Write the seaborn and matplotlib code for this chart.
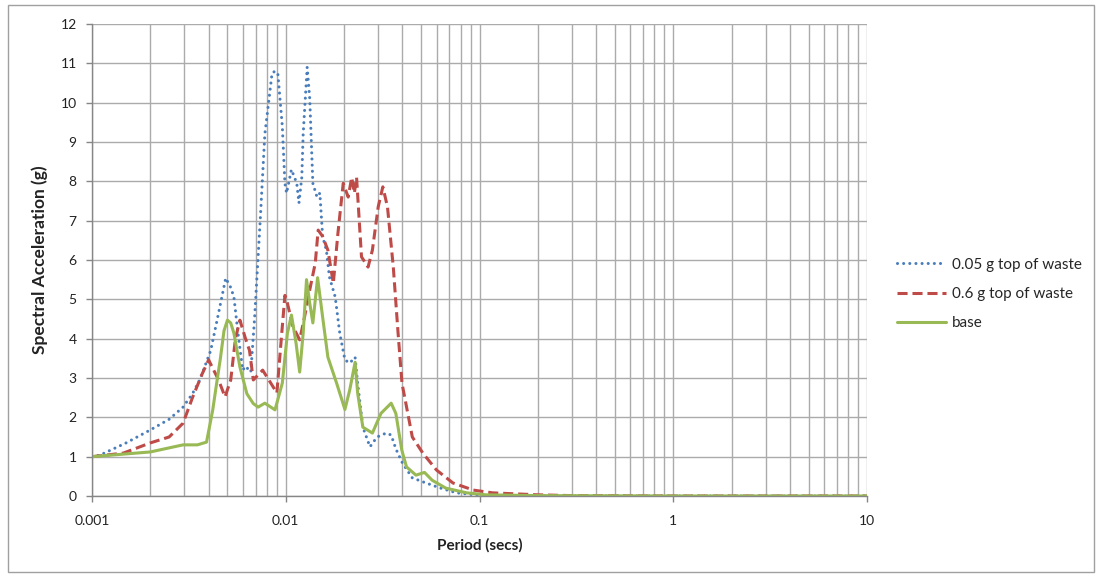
import numpy as np
import pandas as pd
import matplotlib
matplotlib.use("Agg")
import matplotlib.pyplot as plt
from matplotlib.patches import Rectangle
from matplotlib.ticker import LogLocator, FixedLocator, NullFormatter
import seaborn as sns

# ---------------- data ----------------
blue_period = [0.001, 0.0011, 0.0015, 0.002, 0.0025, 0.00295, 0.0033, 0.0036, 0.0041, 0.0045,
               0.0049, 0.0052, 0.0054, 0.0057, 0.006, 0.0062, 0.0066, 0.0069, 0.0074, 0.0078,
               0.0085, 0.0088, 0.0091, 0.0096, 0.0099, 0.0101, 0.0107, 0.0114, 0.0117, 0.0121,
               0.0123, 0.0129, 0.0133, 0.0138, 0.0145, 0.015, 0.0155, 0.0162, 0.0168, 0.018,
               0.019, 0.0202, 0.0214, 0.0228, 0.0235, 0.025, 0.0272, 0.0296, 0.033, 0.035,
               0.037, 0.040, 0.045, 0.053, 0.063, 0.076, 0.1, 0.2, 1.0, 10.0]
blue_sa = [1.0, 1.04, 1.35, 1.68, 1.95, 2.26, 2.6, 2.95, 3.7, 4.65,
           5.54, 5.3, 5.06, 4.04, 3.2, 3.3, 3.15, 4.5, 7.1, 9.2,
           10.75, 10.8, 10.75, 9.4, 7.95, 7.7, 8.3, 7.95, 7.45, 8.1,
           9.2, 10.9, 10.1, 7.95, 7.6, 7.7, 6.6, 6.25, 5.57, 5.06,
           4.14, 3.46, 3.38, 3.53, 2.87, 1.75, 1.25, 1.5, 1.6, 1.55,
           1.2, 0.84, 0.46, 0.33, 0.2, 0.08, 0.02, 0.005, 0.0, 0.0]

red_period = [0.001, 0.00145, 0.002, 0.0025, 0.00295, 0.0033, 0.0037, 0.004, 0.0045, 0.00486,
              0.0052, 0.0055, 0.0058, 0.0062, 0.0065, 0.0068, 0.0076, 0.0083, 0.009, 0.0095,
              0.0099, 0.0102, 0.0109, 0.0118, 0.0125, 0.0133, 0.0142, 0.0147, 0.0155, 0.0165,
              0.0176, 0.0186, 0.0198, 0.021, 0.0219, 0.0226, 0.0232, 0.0246, 0.0266, 0.028,
              0.030, 0.0317, 0.0335, 0.0359, 0.038, 0.0398, 0.0423, 0.045, 0.051, 0.060,
              0.073, 0.093, 0.117, 0.2, 0.3, 1.0, 10.0]
red_sa = [1.0, 1.09, 1.35, 1.5, 1.85, 2.5, 3.1, 3.46, 2.95, 2.52,
          2.95, 4.0, 4.47, 4.0, 3.7, 2.95, 3.2, 2.9, 2.62, 4.04,
          5.1, 4.9, 4.3, 3.97, 4.55, 5.24, 5.92, 6.76, 6.6, 6.25,
          5.41, 6.69, 7.95, 7.6, 8.1, 7.7, 8.1, 6.08, 5.82, 6.25,
          7.35, 7.86, 7.35, 5.82, 4.14, 2.87, 2.19, 1.5, 1.09, 0.66,
          0.33, 0.15, 0.08, 0.03, 0.01, 0.0, 0.0]

green_period = [0.001, 0.002, 0.00295, 0.0035, 0.0039, 0.0042, 0.0044, 0.0046, 0.0048, 0.005,
                0.0052, 0.0054, 0.0058, 0.0063, 0.0068, 0.0072, 0.0078, 0.0088, 0.0096, 0.0102,
                0.0107, 0.0113, 0.0118, 0.0123, 0.0128, 0.0133, 0.0138, 0.0146, 0.0155, 0.0165,
                0.0183, 0.0202, 0.0214, 0.0228, 0.0235, 0.025, 0.028, 0.031, 0.035, 0.037,
                0.0397, 0.042, 0.047, 0.052, 0.057, 0.067, 0.086, 0.108, 0.2, 1.0, 10.0]
green_sa = [1.0, 1.12, 1.3, 1.3, 1.37, 2.19, 2.87, 3.5, 4.2, 4.47,
            4.4, 4.14, 3.28, 2.6, 2.35, 2.26, 2.36, 2.19, 2.87, 4.14,
            4.6, 3.89, 3.15, 4.14, 5.5, 4.9, 4.4, 5.55, 4.55, 3.53,
            2.87, 2.2, 2.7, 3.4, 2.62, 1.75, 1.6, 2.1, 2.36, 2.1,
            1.17, 0.74, 0.53, 0.6, 0.4, 0.2, 0.08, 0.03, 0.01, 0.0, 0.0]

series_labels = ["0.05 g top of waste", "0.6 g top of waste", "base"]
x_tick_values = [0.001, 0.01, 0.1, 1, 10]
x_tick_labels = ["0.001", "0.01", "0.1", "1", "10"]
y_tick_values = list(range(0, 13))

# ---------------- style ----------------
sns.set_theme(style="white")
plt.rcParams["font.family"] = ["Lato", "DejaVu Sans"]

fig = plt.figure(figsize=(11.01, 5.76), dpi=100)
ax = fig.add_axes([92 / 1101, 1 - 496 / 576, (867 - 92) / 1101, (496 - 24) / 576])

grid_color = "#ababab"
lw = 2.2

sns.lineplot(x=blue_period, y=blue_sa, ax=ax, color="#4a7ebb", lw=lw,
             label=series_labels[0], sort=False)
ax.lines[-1].set_dashes((0.01, 2.0))
ax.lines[-1].set_dash_capstyle("round")

sns.lineplot(x=red_period, y=red_sa, ax=ax, color="#be4b48", lw=lw,
             label=series_labels[1], sort=False)
ax.lines[-1].set_dashes((3.3, 1.6))

sns.lineplot(x=green_period, y=green_sa, ax=ax, color="#98b954", lw=lw,
             label=series_labels[2], sort=False)

ax.set_xscale("log")
ax.set_xlim(0.001, 10)
ax.set_ylim(0, 12)

ax.xaxis.set_major_locator(FixedLocator(x_tick_values))
ax.set_xticks(x_tick_values)
ax.set_xticklabels(x_tick_labels)
ax.xaxis.set_minor_locator(LogLocator(base=10, subs=np.arange(2, 10)))
ax.xaxis.set_minor_formatter(NullFormatter())
ax.set_yticks(y_tick_values)

ax.grid(True, which="major", axis="both", color=grid_color, lw=1.0)
ax.grid(True, which="minor", axis="x", color=grid_color, lw=1.0)
ax.set_axisbelow(True)

for side in ["top", "right"]:
    ax.spines[side].set_visible(False)
for side in ["left", "bottom"]:
    ax.spines[side].set_color("#868686")
    ax.spines[side].set_linewidth(1.0)

ax.tick_params(axis="y", which="major", direction="out", length=4, width=1,
               color="#868686", pad=7, labelsize=10, labelcolor="#222222", left=True)
ax.tick_params(axis="x", which="major", direction="out", length=4, width=1,
               color="#868686", pad=10, labelsize=10, labelcolor="#222222", bottom=True)
ax.tick_params(axis="x", which="minor", length=0)

ax.set_xlabel("Period (secs)", fontsize=11, fontweight="bold", color="#222222", labelpad=8)
ax.set_ylabel("Spectral Acceleration (g)", fontsize=12.5, fontweight="bold", color="#222222", labelpad=9)

handles, labels = ax.get_legend_handles_labels()
ax.get_legend().remove()
fig.legend(handles, labels, loc="center left", bbox_to_anchor=(897 / 1101, 1 - 294 / 576),
           frameon=False, fontsize=11, handlelength=3.2, handletextpad=0.4,
           labelspacing=1.0, borderpad=0, borderaxespad=0)

# chart-area border
fig.patches.append(Rectangle((8 / 1101, 4 / 576), 1086 / 1101, 567 / 576,
                             transform=fig.transFigure, fill=False,
                             edgecolor="#a0a0a0", lw=1.0))

fig.savefig("out.png", dpi=100)
